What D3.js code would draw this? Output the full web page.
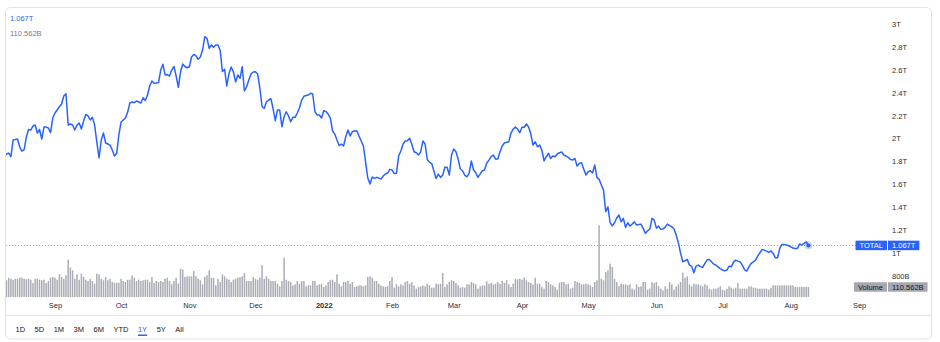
<!DOCTYPE html>
<html><head><meta charset="utf-8">
<script src="https://cdn.jsdelivr.net/npm/d3@7"></script>
<style>
html,body{margin:0;padding:0;background:#fff;}
svg{display:block;font-family:"Liberation Sans",Arial,sans-serif;}
</style></head><body>
<svg id="c" width="940" height="342"></svg>
<script>
// ---- data ----
const startDate = "2021-08-09"; // first daily point, one point per day
const totalCap = [ // total crypto market cap, trillions USD
1.847,1.865,1.873,1.843,1.987,1.991,1.996,1.926,1.891,1.904,
2.013,2.079,2.074,2.109,2.118,2.048,2.079,1.996,2.100,2.100,
2.092,2.052,2.179,2.223,2.249,2.278,2.301,2.371,2.391,2.118,
2.127,2.118,2.074,2.118,2.135,2.083,2.153,2.210,2.197,2.162,
2.185,2.118,1.969,1.830,1.987,2.048,1.961,1.952,1.943,1.900,
1.847,1.869,2.031,2.144,2.162,2.179,2.231,2.310,2.319,2.313,
2.328,2.319,2.310,2.356,2.332,2.380,2.459,2.502,2.482,2.485,
2.489,2.598,2.648,2.555,2.559,2.546,2.598,2.629,2.546,2.447,
2.581,2.651,2.629,2.618,2.627,2.712,2.734,2.721,2.692,2.712,
2.773,2.889,2.875,2.788,2.817,2.797,2.817,2.817,2.769,2.585,
2.604,2.459,2.568,2.625,2.581,2.494,2.555,2.526,2.627,2.415,
2.452,2.511,2.563,2.581,2.583,2.563,2.441,2.280,2.264,2.321,
2.336,2.349,2.262,2.156,2.249,2.249,2.103,2.190,2.234,2.197,
2.147,2.185,2.185,2.223,2.269,2.336,2.369,2.376,2.380,2.395,
2.389,2.234,2.205,2.205,2.179,2.243,2.236,2.214,2.179,2.066,
2.039,1.987,1.939,1.952,1.935,2.016,2.074,2.022,2.061,2.066,
2.068,2.022,1.978,1.935,1.795,1.655,1.603,1.664,1.652,1.661,
1.655,1.646,1.673,1.690,1.699,1.731,1.725,1.694,1.696,1.847,
1.891,1.952,1.978,1.981,2.002,1.948,1.885,1.876,1.856,1.885,
1.978,1.952,1.817,1.792,1.783,1.716,1.651,1.690,1.661,1.681,
1.749,1.749,1.681,1.856,1.908,1.885,1.821,1.734,1.719,1.681,
1.666,1.699,1.804,1.725,1.701,1.661,1.690,1.719,1.725,1.786,
1.812,1.843,1.856,1.821,1.821,1.882,1.935,1.961,1.967,1.972,
2.048,2.083,2.100,2.083,2.051,2.098,2.098,2.127,2.100,2.039,
1.943,1.972,1.928,1.943,1.900,1.806,1.841,1.871,1.827,1.847,
1.841,1.865,1.876,1.882,1.856,1.847,1.836,1.818,1.812,1.827,
1.760,1.783,1.789,1.734,1.681,1.710,1.719,1.699,1.769,1.661,
1.644,1.594,1.550,1.361,1.404,1.265,1.238,1.265,1.306,1.332,
1.273,1.303,1.224,1.265,1.236,1.253,1.273,1.245,1.249,1.253,
1.216,1.172,1.195,1.210,1.303,1.288,1.218,1.236,1.207,1.210,
1.227,1.253,1.240,1.230,1.210,1.157,1.087,0.997,0.924,0.933,
0.945,0.895,0.886,0.828,0.886,0.895,0.882,0.875,0.910,0.939,
0.945,0.924,0.904,0.895,0.880,0.865,0.852,0.845,0.852,0.886,
0.880,0.921,0.939,0.930,0.924,0.895,0.856,0.843,0.880,0.910,
0.924,0.939,0.976,1.003,1.032,1.026,1.017,1.006,1.020,0.997,
0.959,0.959,1.041,1.076,1.076,1.070,1.064,1.055,1.044,1.041,
1.041,1.079,1.070,1.085,1.099,1.067];
const volume = [ // daily volume, billions USD
191,185,213,202,191,202,202,213,213,202,
196,202,191,155,202,202,191,185,191,155,
177,213,221,213,191,251,221,202,240,413,
324,295,202,251,191,258,221,191,177,202,
177,147,258,251,202,185,221,185,202,166,
158,158,158,202,177,166,191,191,240,213,
177,191,177,185,191,191,166,221,155,177,
166,177,166,202,213,177,140,177,213,147,
313,302,221,229,229,229,288,229,202,185,
140,221,240,295,213,213,129,202,166,251,
229,202,191,166,191,202,213,221,229,265,
177,177,177,221,202,191,213,351,202,229,
202,177,177,177,147,118,177,435,191,177,
166,129,140,177,147,177,177,118,129,129,
177,177,129,140,147,111,129,166,185,191,
166,251,147,118,166,166,177,147,166,111,
118,129,129,118,129,221,229,213,177,177,
147,129,118,111,118,177,221,103,140,118,
140,129,166,177,147,166,129,92,111,118,
129,118,147,129,103,103,147,140,147,265,
111,140,166,185,177,155,129,103,111,103,
140,140,166,155,140,92,118,129,129,174,
147,155,140,147,166,144,177,155,185,140,
111,147,202,196,202,191,213,185,166,155,
140,213,147,147,111,92,177,166,140,129,
111,81,155,166,166,140,147,92,103,177,
166,155,140,140,147,140,129,111,166,185,
793,202,185,277,295,368,332,202,166,118,
147,140,140,129,140,92,81,140,111,118,
166,166,81,92,166,155,166,118,92,74,
118,92,166,140,81,118,140,166,269,213,
229,140,118,147,140,140,129,118,140,129,
92,81,92,92,103,118,81,74,92,118,
103,92,103,155,92,92,92,92,118,118,
103,103,92,92,92,92,92,81,103,129,
129,129,129,129,129,129,129,129,129,111,
111,111,111,111,111,110.562];
const priceTicks = [0.8,1.0,1.2,1.4,1.6,1.8,2.0,2.2,2.4,2.6,2.8,3.0];
const monthTicks = ["2021-09-01","2021-10-01","2021-11-01","2021-12-01","2022-01-01","2022-02-01",
                    "2022-03-01","2022-04-01","2022-05-01","2022-06-01","2022-07-01","2022-08-01","2022-09-01"];
const ranges = ["1D","5D","1M","3M","6M","YTD","1Y","5Y","All"];
const activeRange = "1Y";
const seriesName = "TOTAL";
const volumeName = "Volume";

// ---- build ----
const svg = d3.select("#c");
const blue = "#2962ff";
const textCol = "#131722";
const parse = d3.utcParse("%Y-%m-%d");
const t0 = parse(startDate);
const rows = totalCap.map((v,i)=>({date:d3.utcDay.offset(t0,i), v, vol:volume[i]}));
const last = rows[rows.length-1];

const x = d3.scaleUtc().domain([t0, last.date]).range([4.3, 808.4]);
const y = d3.scaleLinear().domain([0.8, 3.0]).range([276, 24]);
const yv = d3.scaleLinear().domain([0, last.vol]).range([297, 287]);

const fmtT = v => v >= 1 ? (+v.toFixed(3)) + "T" : Math.round(v*1000) + "B";
const fmtVol = v => v.toFixed(3) + "B";

// card
svg.append("rect").attr("x",5.5).attr("y",7.5).attr("width",926).attr("height",331.5)
  .attr("rx",5).attr("fill","#fff").attr("stroke","#e0e3eb");
svg.append("line").attr("x1",5.5).attr("x2",931.5).attr("y1",315.5).attr("y2",315.5).attr("stroke","#e0e3eb");

svg.append("clipPath").attr("id","plot").append("rect").attr("x",6).attr("y",8).attr("width",880).attr("height",307);

const g = svg.append("g").attr("clip-path","url(#plot)");

// volume bars
g.append("g").selectAll("rect").data(rows).join("rect")
  .attr("x", d=>x(d.date)-0.75).attr("width",1.5)
  .attr("y", d=>yv(d.vol)).attr("height", d=>yv(0)-yv(d.vol))
  .attr("fill","#aaadb5");

// last value dotted line
g.append("line").attr("x1",6).attr("x2",860).attr("y1",y(last.v)).attr("y2",y(last.v))
  .attr("stroke",blue).attr("stroke-opacity",0.55).attr("stroke-dasharray","1,2");

// price line
g.append("path").datum(rows)
  .attr("d", d3.line().x(d=>x(d.date)).y(d=>y(d.v)))
  .attr("fill","none").attr("stroke",blue).attr("stroke-width",1.5).attr("stroke-linejoin","round");

// last point
g.append("circle").attr("cx",x(last.date)).attr("cy",y(last.v)).attr("r",4).attr("fill",blue).attr("fill-opacity",0.25);
g.append("circle").attr("cx",x(last.date)).attr("cy",y(last.v)).attr("r",2).attr("fill",blue);

// time axis
const months = monthTicks.map(parse);
const xAxis = d3.axisBottom(x).tickValues(months).tickSize(0).tickPadding(0)
  .tickFormat(d => d.getUTCMonth()===0 ? d3.utcFormat("%Y")(d) : d3.utcFormat("%b")(d));
const xa = svg.append("g").attr("transform","translate(0,303)").call(xAxis);
xa.select(".domain").remove();
xa.selectAll("text").attr("font-size",7.5).attr("fill","#2a2e39").attr("font-family","Liberation Sans, Arial, sans-serif")
  .attr("font-weight", d => d.getUTCMonth()===0 ? "bold" : "normal");

// price axis
const yAxis = d3.axisRight(y).tickValues(priceTicks).tickSize(0).tickPadding(0).tickFormat(fmtT);
const ya = svg.append("g").attr("transform","translate(892,0)").call(yAxis);
ya.select(".domain").remove();
ya.selectAll("text").attr("font-size",7.5).attr("fill","#2a2e39").attr("font-family","Liberation Sans, Arial, sans-serif");

// labels on the price scale
function tag(cy, leftText, rightText, fill, color){
  const h = 9.5, pad = 4, xs = 888;
  const grp = svg.append("g");
  const rt = grp.append("text").attr("font-size",7.5).text(rightText);
  const lt = grp.append("text").attr("font-size",7.5).text(leftText);
  const rw = rt.node().getComputedTextLength(), lw = lt.node().getComputedTextLength();
  grp.insert("rect","text").attr("x",xs).attr("y",cy-h/2).attr("width",rw+2*pad).attr("height",h).attr("fill",fill);
  grp.insert("rect","text").attr("x",xs-1-(lw+2*pad)).attr("y",cy-h/2).attr("width",lw+2*pad).attr("height",h).attr("fill",fill);
  rt.attr("x",xs+pad).attr("y",cy+2.7).attr("fill",color);
  lt.attr("x",xs-1-(lw+2*pad)+pad).attr("y",cy+2.7).attr("fill",color);
}
tag(y(last.v), seriesName, last.v.toFixed(3)+"T", blue, "#fff");
tag(yv(last.vol), volumeName, fmtVol(last.vol), "#a5a8b0", textCol);

// top-left legend
svg.append("text").attr("x",10).attr("y",20.5).attr("font-size",7.5).attr("fill",blue).text(last.v.toFixed(3)+"T");
svg.append("text").attr("x",10).attr("y",36).attr("font-size",7.5).attr("fill","#787b86").text(fmtVol(last.vol));

// range buttons
let bx = 15.5;
ranges.forEach(r=>{
  const t = svg.append("text").attr("x",bx).attr("y",332).attr("font-size",7.5)
    .attr("fill", r===activeRange ? blue : textCol).text(r);
  const w = t.node().getComputedTextLength();
  if (r===activeRange) svg.append("rect").attr("x",bx).attr("y",334.5).attr("width",w).attr("height",1.5).attr("fill",blue);
  bx += w + 9.5;
});
</script>
</body></html>
